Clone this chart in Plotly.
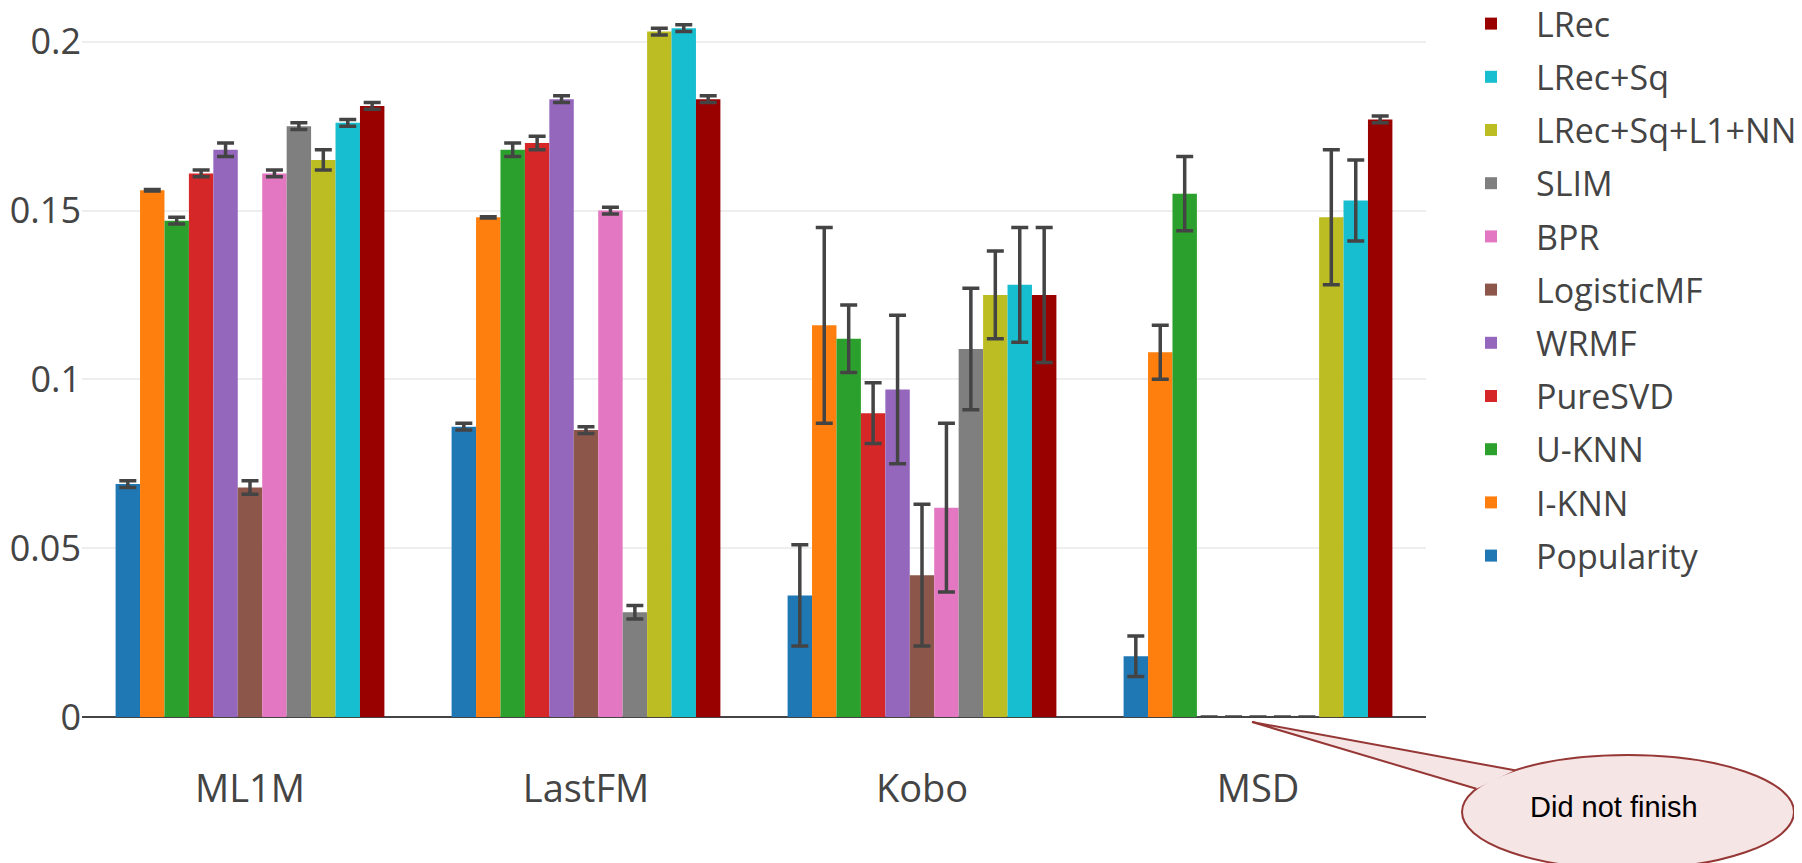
import math
import plotly.graph_objects as go

categories = ["ML1M", "LastFM", "Kobo", "MSD"]

methods = ["Popularity", "I-KNN", "U-KNN", "PureSVD", "WRMF", "LogisticMF",
           "BPR", "SLIM", "LRec+Sq+L1+NN", "LRec+Sq", "LRec"]

colors = ["#1f77b4", "#ff7f0e", "#2ca02c", "#d62728", "#9467bd", "#8c564b",
          "#e377c2", "#7f7f7f", "#bcbd22", "#17becf", "#990000"]

popularity = [0.069, 0.086, 0.036, 0.018]
popularity_err = [0.001, 0.001, 0.015, 0.006]
iknn = [0.156, 0.148, 0.116, 0.108]
iknn_err = [0.0002, 0.0002, 0.029, 0.008]
uknn = [0.147, 0.168, 0.112, 0.155]
uknn_err = [0.001, 0.002, 0.010, 0.011]
puresvd = [0.161, 0.170, 0.090, 0.0]
puresvd_err = [0.001, 0.002, 0.009, 0.0]
wrmf = [0.168, 0.183, 0.097, 0.0]
wrmf_err = [0.002, 0.001, 0.022, 0.0]
logisticmf = [0.068, 0.085, 0.042, 0.0]
logisticmf_err = [0.002, 0.001, 0.021, 0.0]
bpr = [0.161, 0.150, 0.062, 0.0]
bpr_err = [0.001, 0.001, 0.025, 0.0]
slim = [0.175, 0.031, 0.109, 0.0]
slim_err = [0.001, 0.002, 0.018, 0.0]
lrec_sq_l1_nn = [0.165, 0.203, 0.125, 0.148]
lrec_sq_l1_nn_err = [0.003, 0.001, 0.013, 0.020]
lrec_sq = [0.176, 0.204, 0.128, 0.153]
lrec_sq_err = [0.001, 0.001, 0.017, 0.012]
lrec = [0.181, 0.183, 0.125, 0.177]
lrec_err = [0.001, 0.001, 0.020, 0.001]

values = [popularity, iknn, uknn, puresvd, wrmf, logisticmf, bpr, slim,
          lrec_sq_l1_nn, lrec_sq, lrec]
errors = [popularity_err, iknn_err, uknn_err, puresvd_err, wrmf_err,
          logisticmf_err, bpr_err, slim_err, lrec_sq_l1_nn_err, lrec_sq_err,
          lrec_err]

y_ticks = [0, 0.05, 0.1, 0.15, 0.2]
y_tick_text = ["0", "0.05", "0.1", "0.15", "0.2"]

# page offset (body margin) and layout geometry
OFF = 8
W, H = 1802, 863
ML, MT, MB = 74, 2, 154
PW = 1344
MR = W - ML - PW
PH = H - MT - MB
Y_MAX = 0.2094

fig = go.Figure()
for i, (name, col, vals, errs) in enumerate(zip(methods, colors, values, errors)):
    fig.add_trace(go.Bar(
        name=name, x=categories, y=vals, marker_color=col,
        legendgroup=name, legendrank=1000 - i,
        error_y=dict(type="data", array=errs, visible=True,
                     color="#444", thickness=3.5, width=8.5),
    ))

# page pixel -> paper coordinates (for the callout decoration)
def px(xp):
    return (xp - OFF - ML) / PW

def py(yp):
    return 1 - (yp - OFF - MT) / PH

cx, cy, rx, ry = 1628, 812, 166, 57
tip = (1252, 722)
a1, a2 = math.radians(-133), math.radians(-156)
b1 = (cx + rx * math.cos(a1), cy + ry * math.sin(a1))
b2 = (cx + rx * math.cos(a2), cy + ry * math.sin(a2))

shapes = [
    dict(type="circle", xref="paper", yref="paper",
         x0=px(cx - rx), x1=px(cx + rx), y0=py(cy + ry), y1=py(cy - ry),
         fillcolor="#f6e5e5", line=dict(color="#953735", width=2), layer="above"),
    dict(type="path", xref="paper", yref="paper",
         path="M{:.5f},{:.5f} L{:.5f},{:.5f} L{:.5f},{:.5f}".format(
             px(b1[0]), py(b1[1]), px(tip[0]), py(tip[1]), px(b2[0]), py(b2[1])),
         fillcolor="#f6e5e5", line=dict(color="#953735", width=2), layer="above"),
]

fig.update_layout(
    template="none",
    width=W, height=H,
    margin=dict(l=ML, r=MR, t=MT, b=MB, pad=0, autoexpand=False),
    barmode="group", bargap=0.2,
    paper_bgcolor="white", plot_bgcolor="white",
    font=dict(family="Open Sans, verdana, arial, sans-serif", size=34, color="#444"),
    xaxis=dict(showgrid=False, showline=False, zeroline=False,
               ticks="", ticklabelstandoff=46, tickfont=dict(size=38)),
    yaxis=dict(range=[0, Y_MAX], tickvals=y_ticks, ticktext=y_tick_text,
               showgrid=True, gridcolor="#eee", gridwidth=2,
               zeroline=True, zerolinecolor="#444", zerolinewidth=2,
               showline=False, ticks="", tickfont=dict(size=36)),
    legend=dict(traceorder="grouped", tracegroupgap=6,
                x=px(1446), xanchor="left", y=py(-5), yanchor="top",
                itemwidth=80, maxheight=1.0,
                font=dict(size=34, color="#444")),
    shapes=shapes,
    annotations=[dict(text="Did not finish", xref="paper", yref="paper",
                      x=px(1614), y=py(807), xanchor="center", yanchor="middle",
                      showarrow=False,
                      font=dict(family="Liberation Sans, Arial, sans-serif",
                                size=29, color="black"))],
)

fig.write_html("out.html")
